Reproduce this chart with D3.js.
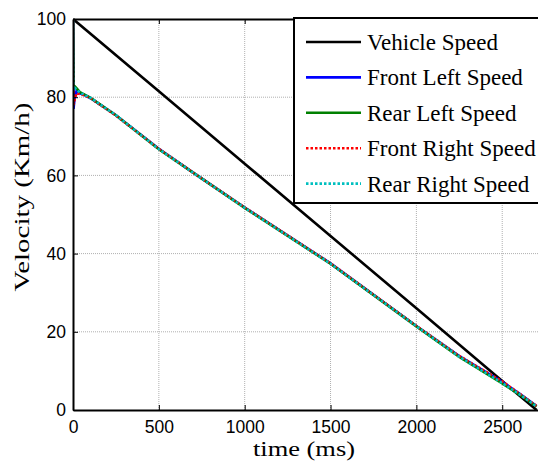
<!DOCTYPE html>
<html>
<head>
<meta charset="utf-8">
<script src="https://cdn.jsdelivr.net/npm/d3@7"></script>
<style>
  html, body { margin: 0; padding: 0; background: #fff; }
  svg { display: block; }
</style>
</head>
<body>
<svg id="chart" width="538" height="461"></svg>
<script>
// Wheel and vehicle speeds during a braking run (km/h vs ms)
const vehicleTime  = [0, 500, 1000, 1500, 2000, 2500, 2700];
const vehicleSpeed = [100, 81.5, 63, 44.5, 26, 7.4, 0];

const wheelTime       = [0, 3, 10, 20, 40, 70, 100, 250, 500, 723, 1000, 1500, 2000, 2250, 2500, 2600, 2700];
const frontLeftSpeed  = [100, 77, 80, 81.5, 81, 80.5, 79.8, 75.4, 66.8, 60, 51.8, 37.5, 21.5, 13.8, 7.2, 4.2, 1.0];
const rearLeftSpeed   = [100, 83, 82.8, 82.3, 81.3, 80.6, 79.9, 75.4, 66.7, 60, 51.7, 37.4, 21.4, 13.6, 6.8, 4.0, 0.9];
const frontRightSpeed = [100, 78, 79.5, 81, 80.8, 80.4, 79.8, 75.3, 66.8, 60, 51.8, 37.5, 21.5, 13.8, 7.3, 4.2, 1.0];
const rearRightSpeed  = [100, 82, 82.4, 82, 81.2, 80.5, 79.9, 75.4, 66.7, 60, 51.7, 37.4, 21.4, 13.6, 6.9, 4.0, 0.9];

const seriesNames = ["Vehicle Speed", "Front Left Speed", "Rear Left Speed", "Front Right Speed", "Rear Right Speed"];
const xTicks = [0, 500, 1000, 1500, 2000, 2500];
const yTicks = [0, 20, 40, 60, 80, 100];

const series = [
  { name: seriesNames[0], t: vehicleTime, v: vehicleSpeed,    color: "#000000", dash: null },
  { name: seriesNames[1], t: wheelTime,   v: frontLeftSpeed,  color: "#0000ff", dash: null },
  { name: seriesNames[2], t: wheelTime,   v: rearLeftSpeed,   color: "#008000", dash: null },
  { name: seriesNames[3], t: wheelTime,   v: frontRightSpeed, color: "#ff0000", dash: "2.5,2" },
  { name: seriesNames[4], t: wheelTime,   v: rearRightSpeed,  color: "#00bfbf", dash: "2.5,2" }
];

const L = 73, R = 540, T = 19, B = 410;
const svg = d3.select("#chart");
const x = d3.scaleLinear().domain([0, 2720]).range([L, R]);
const y = d3.scaleLinear().domain([0, 100]).range([B, T]);

// dotted grid
const grid = svg.append("g").attr("stroke", "#b0b0b0").attr("stroke-width", 1).attr("stroke-dasharray", "1,1");
xTicks.filter(d => d > 0).forEach(d => {
  grid.append("line").attr("x1", x(d)).attr("x2", x(d)).attr("y1", T).attr("y2", B);
});
yTicks.filter(d => d > 0 && d < 100).forEach(d => {
  grid.append("line").attr("x1", L).attr("x2", R).attr("y1", y(d)).attr("y2", y(d));
});

svg.append("defs").append("clipPath").attr("id", "plot")
  .append("rect").attr("x", L).attr("y", T - 2).attr("width", R - L + 2).attr("height", B - T + 2);

const line = d3.line().x(d => x(d[0])).y(d => y(d[1]));
const lines = svg.append("g").attr("clip-path", "url(#plot)");
series.forEach(s => {
  lines.append("path")
    .datum(s.t.map((t, i) => [t, s.v[i]]))
    .attr("d", line)
    .attr("fill", "none")
    .attr("stroke", s.color)
    .attr("stroke-width", 2.6)
    .attr("stroke-dasharray", s.dash);
});

// axes with inward ticks
const fontSans = "'Liberation Sans', Arial, sans-serif";
const fmt = d3.format("d");
const xAxis = svg.append("g").attr("transform", `translate(0,${B})`)
  .call(d3.axisBottom(x).tickValues(xTicks).tickFormat(fmt).tickSize(-5).tickPadding(11).tickSizeOuter(0));
const xTop = svg.append("g").attr("transform", `translate(0,${T})`)
  .call(d3.axisTop(x).tickValues(xTicks).tickSize(-5).tickFormat("").tickSizeOuter(0));
const yAxis = svg.append("g").attr("transform", `translate(${L},0)`)
  .call(d3.axisLeft(y).tickValues(yTicks).tickFormat(fmt).tickSize(-5).tickPadding(7).tickSizeOuter(0));

[xAxis, xTop, yAxis].forEach(g => {
  g.select(".domain").attr("stroke", "#000").attr("stroke-width", 2);
  g.selectAll(".tick line").attr("stroke", "#000").attr("stroke-width", 1);
  g.selectAll("text").attr("font-family", fontSans).attr("font-size", 17.5).attr("fill", "#000");
});

// axis titles
const fontSerif = "'Liberation Serif', 'Times New Roman', serif";
svg.append("text").attr("x", 304).attr("y", 456)
  .attr("text-anchor", "middle").attr("font-family", fontSerif).attr("font-size", 20)
  .attr("textLength", 102).attr("lengthAdjust", "spacingAndGlyphs")
  .text("time (ms)");
svg.append("text").attr("transform", `translate(29,197) rotate(-90)`)
  .attr("text-anchor", "middle").attr("font-family", fontSerif).attr("font-size", 22)
  .attr("textLength", 189).attr("lengthAdjust", "spacingAndGlyphs")
  .text("Velocity (Km/h)");

// legend
const lg = svg.append("g");
lg.append("rect").attr("x", 294).attr("y", 18).attr("width", 260).attr("height", 185)
  .attr("fill", "#fff").attr("stroke", "#000").attr("stroke-width", 2);
series.forEach((s, i) => {
  const cy = 42 + i * 35.4;
  lg.append("line").attr("x1", 306).attr("x2", 361).attr("y1", cy).attr("y2", cy)
    .attr("stroke", s.color).attr("stroke-width", 2.6).attr("stroke-dasharray", s.dash);
  lg.append("text").attr("x", 367).attr("y", cy).attr("dy", "0.35em")
    .attr("font-family", fontSerif).attr("font-size", 23)
    .text(s.name);
});
</script>
</body>
</html>
